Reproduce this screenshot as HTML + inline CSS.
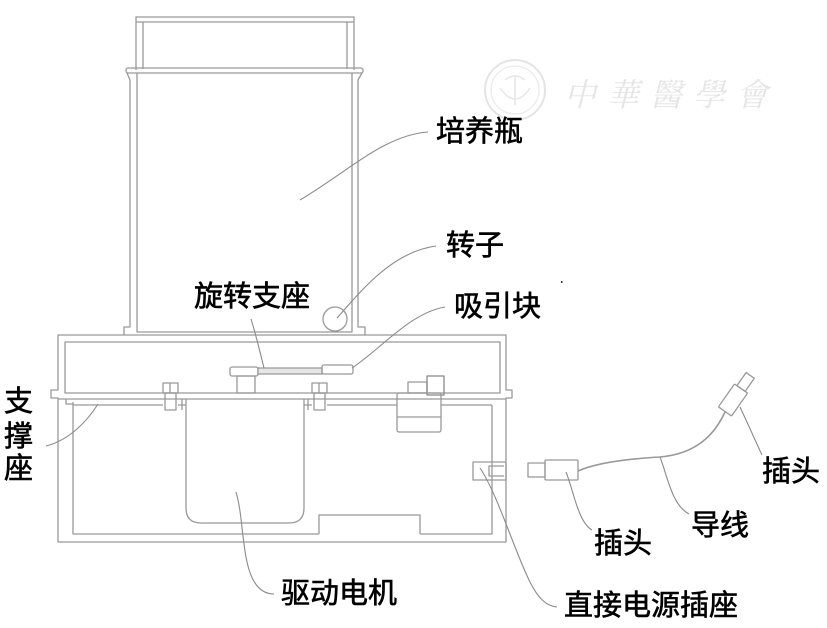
<!DOCTYPE html>
<html><head><meta charset="utf-8"><style>
html,body{margin:0;padding:0;background:#fff;}
svg{display:block;}
.t{font-family:"Liberation Sans","Noto Sans CJK SC",sans-serif;font-size:29px;fill:#000;stroke:#000;stroke-width:0.6;}
</style></head><body>
<svg width="827" height="628" viewBox="0 0 827 628" xmlns="http://www.w3.org/2000/svg">
<!-- watermark -->
<g opacity="0.9">
<circle cx="515" cy="90" r="30" fill="none" stroke="#e2e2e2" stroke-width="2"/>
<circle cx="515" cy="90" r="24" fill="none" stroke="#e8e8e8" stroke-width="1.2"/>
<path d="M500,88 Q515,110 530,88 M515,75 V105 M505,80 Q515,72 525,80" fill="none" stroke="#e4e4e4" stroke-width="1.5"/>
<text x="564" y="106" font-family="'Noto Serif CJK SC',serif" font-size="32" font-style="italic" fill="#e3e3e3" letter-spacing="11">中華醫學會</text>
</g>
<g fill="none" stroke="#999" stroke-width="1.3" stroke-linejoin="round">
<!-- bottle cap -->
<path d="M136,70 V17 H354 V70"/>
<path d="M136,22 H354"/>
<path d="M143,22 V69 M347,22 V69"/>
<rect x="126" y="68" width="237" height="5" rx="2"/>
<!-- bottle body -->
<path d="M127,73 L130,80 V327 H124 V335"/>
<path d="M137,73 V332 H352 V73"/>
<path d="M362,73 L358,80 V327 H365 V335"/>
<!-- base outer -->
<path d="M58,335 H506 V390 H512 V398 H506 V542 H58 V398 H51 V390 H58 Z"/>
<rect x="65" y="342" width="435" height="51"/>
<path d="M58,399 H506"/>
<path d="M66,399 V404 H73"/>
<path d="M73,405 H163 M178,405 H186 M304,405 H312 M327,405 H397 M441,405 H492"/>
<path d="M73,402 V534 H319 M420,534 H492 V405"/>
<!-- motor -->
<path d="M186,399 V508 Q186,523 201,523 H289 Q304,523 304,508 V399"/>
<path d="M182,399 V410 M308,399 V410"/>
<!-- bolts -->
<rect x="163" y="383" width="15" height="10"/><path d="M170,383 V393"/>
<rect x="165" y="393" width="11" height="17"/>
<rect x="312" y="383" width="15" height="10"/><path d="M319,383 V393"/>
<rect x="314" y="393" width="11" height="17"/>
<!-- center support -->
<rect x="230" y="367" width="28" height="9" rx="2"/>
<rect x="237" y="376" width="18" height="17"/>
<rect x="258" y="368" width="64" height="6" fill="#e6e6e6"/>
<rect x="322" y="365" width="31" height="9" rx="2"/>
<!-- right component -->
<rect x="408" y="382" width="19" height="11"/>
<rect x="427" y="376" width="17" height="19" stroke="#888"/>
<rect x="397" y="393" width="44" height="39" rx="2"/>
<path d="M397,417 H441"/>
<!-- bottom board -->
<path d="M319,534 V515 H420 V534"/>
<!-- socket -->
<rect x="473" y="462" width="33" height="18"/>
<path d="M504,466 H489 V476 H504"/>
<!-- rotor -->
<circle cx="335" cy="319" r="12"/>
<!-- plug 1 -->
<rect x="528" y="463" width="17" height="14"/>
<rect x="545" y="460" width="33" height="20" rx="1"/>
<!-- cord -->
<path d="M578,471 C596,463 625,459 660,457 C695,454 714,436 725,412" stroke-width="1.6"/>
<!-- plug 2 -->
<g transform="translate(733,400) rotate(-55)">
<rect x="-14" y="-8" width="28" height="16" rx="1"/>
<rect x="14" y="-5" width="16" height="10"/>
</g>
</g>
<!-- leaders -->
<g fill="none" stroke="#8a8a8a" stroke-width="1.1">
<path d="M300,200 C350,170 385,135 428,132"/>
<path d="M337,318 C362,290 392,252 436,246"/>
<path d="M352,368 C382,348 410,313 445,307"/>
<path d="M251,319 C256,335 260,352 264,368"/>
<path d="M46,446 C70,440 88,420 98,404"/>
<path d="M236,492 C242,512 242,540 247,562 C252,585 262,594 274,594"/>
<path d="M480,468 C498,495 514,550 530,582 C538,598 546,606 557,607"/>
<path d="M566,472 C574,492 578,522 592,530"/>
<path d="M660,457 C668,478 672,505 689,514"/>
<path d="M740,407 C748,424 755,440 762,455"/>
</g>
<rect x="561" y="281" width="1.5" height="2" fill="#333"/>
<!-- labels -->
<text class="t" x="436" y="141">培养瓶</text>
<text class="t" x="446" y="255">转子</text>
<text class="t" x="454" y="316">吸引块</text>
<text class="t" x="194" y="306">旋转支座</text>
<text class="t" x="4" y="411">支</text>
<text class="t" x="4" y="446">撑</text>
<text class="t" x="4" y="478">座</text>
<text class="t" x="281" y="603">驱动电机</text>
<text class="t" x="564" y="615">直接电源插座</text>
<text class="t" x="762" y="481">插头</text>
<text class="t" x="594" y="553">插头</text>
<text class="t" x="691" y="535">导线</text>
</svg>
</body></html>
